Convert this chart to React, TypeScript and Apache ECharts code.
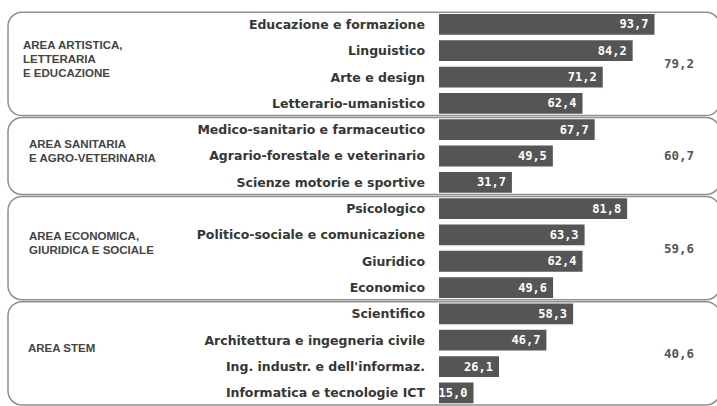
import React, { useEffect, useRef } from "react";
import * as echarts from "echarts";

const categories = [
  "Educazione e formazione",
  "Linguistico",
  "Arte e design",
  "Letterario-umanistico",
  "Medico-sanitario e farmaceutico",
  "Agrario-forestale e veterinario",
  "Scienze motorie e sportive",
  "Psicologico",
  "Politico-sociale e comunicazione",
  "Giuridico",
  "Economico",
  "Scientifico",
  "Architettura e ingegneria civile",
  "Ing. industr. e dell'informaz.",
  "Informatica e tecnologie ICT",
];
const values = [93.7, 84.2, 71.2, 62.4, 67.7, 49.5, 31.7, 81.8, 63.3, 62.4, 49.6, 58.3, 46.7, 26.1, 15.0];
const groupNames = [
  ["AREA ARTISTICA,", "LETTERARIA", "E EDUCAZIONE"],
  ["AREA SANITARIA", "E AGRO-VETERINARIA"],
  ["AREA ECONOMICA,", "GIURIDICA E SOCIALE"],
  ["AREA STEM"],
];
const groupSizes = [4, 3, 4, 4];
const groupAverages = [79.2, 60.7, 59.6, 40.6];

const labelLeft = [23, 29, 29, 28];

const fmt = (v: number) => v.toFixed(1).replace(".", ",");

export default function App() {
  const ref = useRef<HTMLDivElement>(null);
  useEffect(() => {
    const chart = echarts.init(ref.current!, null, { renderer: "svg" });
    const option: any = {
      animation: false,
      grid: { left: 439, top: 11.25, width: 230, height: 398.25 },
      xAxis: { type: "value", min: 0, max: 100, show: false },
      yAxis: {
        type: "category",
        inverse: true,
        data: categories,
        axisLine: { show: false },
        axisTick: { show: false },
        axisLabel: {
          margin: 14,
          color: "#363636",
          fontWeight: "bold",
          fontSize: 12.5,
          fontFamily: "DejaVu Sans",
        },
      },
      series: [
        {
          type: "bar",
          data: values,
          barCategoryGap: "21%",
          itemStyle: { color: "#555555" },
          label: {
            show: true,
            position: "insideRight",
            distance: 6,
            color: "#fff",
            fontWeight: "bold",
            fontSize: 12,
            fontFamily: "DejaVu Sans Mono",
            formatter: (p: any) => fmt(p.value),
          },
        },
      ],
    };
    chart.setOption(option);

    const c0 = chart.convertToPixel({ yAxisIndex: 0 }, categories[0]) as number;
    const c1 = chart.convertToPixel({ yAxisIndex: 0 }, categories[1]) as number;
    const pitch = c1 - c0;
    const lineStep = 14;
    const graphics: any[] = [];
    let idx = 0;
    groupSizes.forEach((n, g) => {
      const first = chart.convertToPixel({ yAxisIndex: 0 }, categories[idx]) as number;
      const last = chart.convertToPixel({ yAxisIndex: 0 }, categories[idx + n - 1]) as number;
      const top = first - pitch / 2 + 1;
      const bottom = last + pitch / 2 - 1;
      const mid = (top + bottom) / 2;
      graphics.push({
        type: "rect",
        shape: { x: 8, y: top, width: 712, height: bottom - top, r: 14 },
        style: { fill: "none", stroke: "#8f8f8f", lineWidth: 1.5 },
        silent: true,
      });
      const lines = groupNames[g];
      const blockMid = mid - 5;
      lines.forEach((ln, i) => {
        graphics.push({
          type: "text",
          x: labelLeft[g],
          y: blockMid + (i - (lines.length - 1) / 2) * lineStep,
          style: {
            text: ln,
            fill: "#444",
            font: "bold 11.5px 'Liberation Sans'",
            verticalAlign: "middle",
            align: "left",
          },
        });
      });
      graphics.push({
        type: "text",
        x: 679,
        y: mid,
        style: {
          text: fmt(groupAverages[g]),
          fill: "#555",
          font: "bold 12.5px 'DejaVu Sans Mono'",
          verticalAlign: "middle",
          align: "center",
        },
      });
      idx += n;
    });
    chart.setOption({ graphic: graphics });
    return () => chart.dispose();
  }, []);
  return (
    <div
      ref={ref}
      style={{ position: "fixed", left: 0, top: 0, width: 717, height: 406, background: "#fff" }}
    />
  );
}
